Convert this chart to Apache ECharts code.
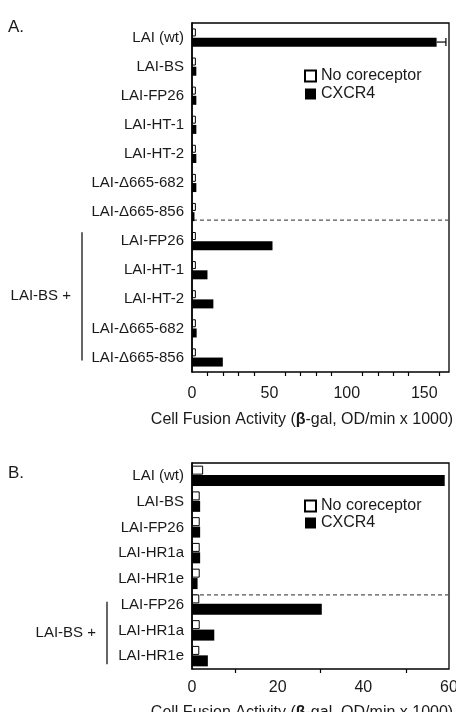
<!DOCTYPE html>
<html>
<head>
<meta charset="utf-8">
<script src="https://cdn.jsdelivr.net/npm/echarts@6/dist/echarts.min.js"></script>
<style>
html, body { margin: 0; padding: 0; background: #fff; }
#chart { width: 456px; height: 712px; }
</style>
</head>
<body>
<div id="chart"></div>
<script>
// panel A
const catsA = ['LAI (wt)', 'LAI-BS', 'LAI-FP26', 'LAI-HT-1', 'LAI-HT-2', 'LAI-Δ665-682', 'LAI-Δ665-856',
    'LAI-FP26', 'LAI-HT-1', 'LAI-HT-2', 'LAI-Δ665-682', 'LAI-Δ665-856']
const noCoA = [2.5, 2.5, 2.5, 2.5, 2.5, 2.5, 2.5, 2.5, 2.5, 2.5, 2.5, 2.5]
const cxcr4A = [158, 2.8, 2.8, 2.8, 2.8, 2.8, 1.6, 52, 10, 13.8, 3, 19.9]
const errA = [[0, 158, 6]] // [category index, value, +error]

// panel B
const catsB = ['LAI (wt)', 'LAI-BS', 'LAI-FP26', 'LAI-HR1a', 'LAI-HR1e', 'LAI-FP26', 'LAI-HR1a', 'LAI-HR1e']
const noCoB = [2.6, 1.8, 1.8, 1.8, 1.8, 1.7, 1.8, 1.7]
const cxcr4B = [59, 1.9, 1.9, 1.9, 1.3, 30.3, 5.2, 3.7]

const legendNames = ['No coreceptor', 'CXCR4']
const groupLabel = 'LAI-BS +'
const font = '"Liberation Sans", Arial, sans-serif'
const txt = '#1a1a1a'

const axisName = '{n|Cell Fusion Activity (}{b|β}{n|-gal, OD/min x 1000)}'
const nameStyle = {
    color: txt,
    fontFamily: font,
    fontSize: 16,
    padding: [0, 37, 0, 0],
    rich: {
        n: { fontSize: 16, fontFamily: font, color: txt },
        b: { fontSize: 16, fontFamily: font, color: txt, fontWeight: 'bold' }
    }
}
const tickStyle = { color: '#000', width: 1.2 }

const chart = echarts.init(document.getElementById('chart'))

const catAxis = (gridIndex, data) => ({
    type: 'category',
    gridIndex,
    data,
    inverse: true,
    axisLine: { lineStyle: { color: '#000', width: 1.5 } },
    axisTick: { show: false },
    axisLabel: { color: txt, fontSize: 15, fontFamily: font, margin: 8 }
})

const legendOpt = (top, gap) => ({
    data: legendNames, left: 299, top, orient: 'vertical', icon: 'rect',
    itemWidth: 11, itemHeight: 11, itemGap: gap,
    textStyle: { color: txt, fontSize: 16, fontFamily: font }
})

const option = {
    animation: false,
    backgroundColor: '#fff',
    grid: [
        { left: 192, top: 23, width: 257, height: 349, show: true, borderColor: '#000', borderWidth: 1.3, outerBoundsMode: 'none' },
        { left: 192, top: 463, width: 257, height: 206, show: true, borderColor: '#000', borderWidth: 1.3, outerBoundsMode: 'none' }
    ],
    legend: [legendOpt(63, 2), legendOpt(493, 1)],
    xAxis: [
        {
            type: 'value', gridIndex: 0, min: 0, max: 166, interval: 50,
            axisLine: { lineStyle: { color: '#000', width: 1.5 } },
            axisTick: { length: 7, lineStyle: tickStyle },
            minorTick: { show: true, splitNumber: 5, length: 4, lineStyle: tickStyle },
            axisLabel: { color: txt, fontSize: 16, fontFamily: font, margin: 14, showMaxLabel: false },
            splitLine: { show: false },
            name: axisName, nameLocation: 'middle', nameGap: 40, nameTextStyle: nameStyle
        },
        {
            type: 'value', gridIndex: 1, min: 0, max: 60, interval: 20,
            axisLine: { lineStyle: { color: '#000', width: 1.5 } },
            axisTick: { length: 7, lineStyle: tickStyle },
            minorTick: { show: true, splitNumber: 2, length: 4, lineStyle: tickStyle },
            axisLabel: { color: txt, fontSize: 16, fontFamily: font, margin: 11 },
            splitLine: { show: false },
            name: axisName, nameLocation: 'middle', nameGap: 36, nameTextStyle: nameStyle
        }
    ],
    yAxis: [catAxis(0, catsA), catAxis(1, catsB)],
    series: [
        {
            name: legendNames[0], type: 'bar', xAxisIndex: 0, yAxisIndex: 0,
            data: noCoA, barWidth: 8, barGap: '15%',
            itemStyle: { color: '#fff', borderColor: '#000', borderWidth: 1 }
        },
        {
            name: legendNames[1], type: 'bar', xAxisIndex: 0, yAxisIndex: 0,
            data: cxcr4A, barWidth: 9, barGap: '15%',
            itemStyle: { color: '#000' }
        },
        {
            type: 'custom', xAxisIndex: 0, yAxisIndex: 0,
            encode: { x: 1, y: 0 },
            data: errA,
            renderItem(params, api) {
                const p0 = api.coord([api.value(1), api.value(0)])
                const p1 = api.coord([api.value(1) + api.value(2), api.value(0)])
                const y = p0[1] + 4.5
                const st = { stroke: '#000', lineWidth: 1.2 }
                return {
                    type: 'group',
                    children: [
                        { type: 'line', shape: { x1: p0[0], y1: y, x2: p1[0], y2: y }, style: st },
                        { type: 'line', shape: { x1: p1[0], y1: y - 4, x2: p1[0], y2: y + 4 }, style: st }
                    ]
                }
            }
        },
        {
            name: legendNames[0], type: 'bar', xAxisIndex: 1, yAxisIndex: 1,
            data: noCoB, barWidth: 9, barGap: '5%',
            itemStyle: { color: '#fff', borderColor: '#000', borderWidth: 1 }
        },
        {
            name: legendNames[1], type: 'bar', xAxisIndex: 1, yAxisIndex: 1,
            data: cxcr4B, barWidth: 11, barGap: '5%',
            itemStyle: { color: '#000' }
        }
    ]
}

chart.setOption(option)

// separators, brackets and panel letters, placed from the axes
function catY(axisIndex, idx) {
    return chart.convertToPixel({ yAxisIndex: axisIndex }, idx)
}
const graphics = []
const panels = [
    { letter: 'A.', letterTop: 19, yAxis: 0, split: 7, last: 11, frac: 0.28, top: -9, bottom: 3, bracketX: 82 },
    { letter: 'B.', letterTop: 465, yAxis: 1, split: 5, last: 7, frac: 0.62, top: -3, bottom: 8, bracketX: 107 }
]
panels.forEach(p => {
    graphics.push({
        type: 'text', left: 8, top: p.letterTop,
        style: { text: p.letter, fontSize: 17, fontFamily: font, fill: txt }
    })
    const ya = catY(p.yAxis, p.split - 1)
    const yb = catY(p.yAxis, p.split)
    const ySplit = ya + (yb - ya) * p.frac
    graphics.push({
        type: 'line',
        shape: { x1: 193, y1: ySplit, x2: 449, y2: ySplit },
        style: { stroke: '#555', lineWidth: 1.2, lineDash: [4, 3] }
    })
    const y1 = yb + p.top
    const y2 = catY(p.yAxis, p.last) + p.bottom
    graphics.push({
        type: 'line',
        shape: { x1: p.bracketX, y1, x2: p.bracketX, y2 },
        style: { stroke: '#000', lineWidth: 1.2 }
    })
    graphics.push({
        type: 'text', x: p.bracketX - 11, y: (y1 + y2) / 2,
        style: { text: groupLabel, fontSize: 15, fontFamily: font, fill: txt, align: 'right', verticalAlign: 'middle' }
    })
})
chart.setOption({ graphic: graphics })
</script>
</body>
</html>
